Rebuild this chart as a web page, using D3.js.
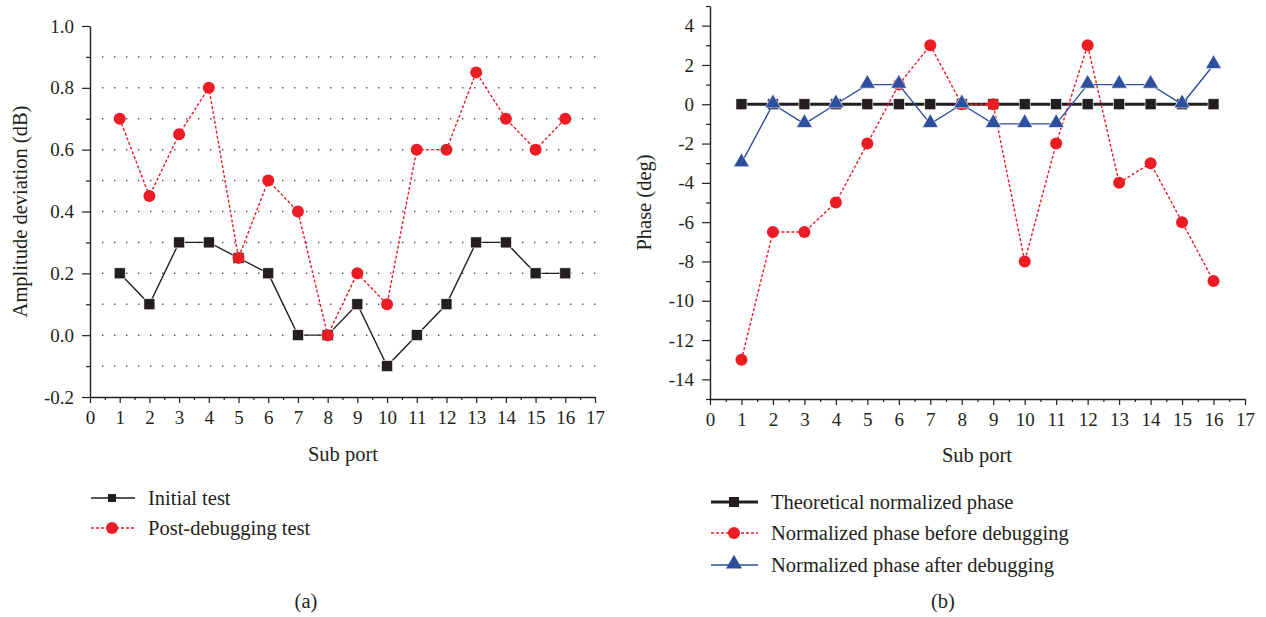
<!DOCTYPE html>
<html>
<head>
<meta charset="utf-8">
<script src="https://cdn.jsdelivr.net/npm/d3@7"></script>
<style>
  html, body { margin: 0; padding: 0; background: #fff; }
  svg { display: block; }
  text { font-family: "Liberation Serif", "Times New Roman", serif; fill: #231f20; }
</style>
</head>
<body>
<svg id="chart" width="1266" height="617"></svg>
<script>
// Sub-port indices shared by both panels
const ports = [1, 2, 3, 4, 5, 6, 7, 8, 9, 10, 11, 12, 13, 14, 15, 16];
const xTicks = [0, 1, 2, 3, 4, 5, 6, 7, 8, 9, 10, 11, 12, 13, 14, 15, 16, 17];

// Panel (a): amplitude deviation, dB
const initialTest = [0.2, 0.1, 0.3, 0.3, 0.25, 0.2, 0, 0, 0.1, -0.1, 0, 0.1, 0.3, 0.3, 0.2, 0.2];
const postDebugTest = [0.7, 0.45, 0.65, 0.8, 0.25, 0.5, 0.4, 0, 0.2, 0.1, 0.6, 0.6, 0.85, 0.7, 0.6, 0.7];
const ampTicks = [-0.2, 0.0, 0.2, 0.4, 0.6, 0.8, 1.0];
const ampMinorTicks = [-0.1, 0.1, 0.3, 0.5, 0.7, 0.9];
const ampGrid = [-0.1, 0.0, 0.1, 0.2, 0.3, 0.4, 0.5, 0.6, 0.7, 0.8, 0.9];

// Panel (b): phase, degrees
const theoreticalPhase = [0, 0, 0, 0, 0, 0, 0, 0, 0, 0, 0, 0, 0, 0, 0, 0];
const phaseBefore = [-13, -6.5, -6.5, -5, -2, 1, 3, 0, 0, -8, -2, 3, -4, -3, -6, -9];
const phaseAfter = [-3, 0, -1, 0, 1, 1, -1, 0, -1, -1, -1, 1, 1, 1, 0, 2];
const phaseTicks = [-14, -12, -10, -8, -6, -4, -2, 0, 2, 4];
const phaseMinorTicks = [-15, -13, -11, -9, -7, -5, -3, -1, 1, 3, 5];

const INK = "#231f20";
const RED = "#ec1c24";
const BLUE = "#2e4f9e";
const TICK_FS = 19;
const LABEL_FS = 20.5;

const svg = d3.select("#chart");

function xAxes(g, x, yPos) {
  const minor = d3.range(0.5, 17, 1);
  g.append("g").attr("transform", `translate(0,${yPos})`)
    .call(d3.axisBottom(x).tickValues(minor).tickSize(3).tickSizeOuter(0).tickFormat(""))
    .call(a => a.select(".domain").remove())
    .call(a => a.selectAll("line").attr("stroke", INK).attr("stroke-width", 1.2));
  g.append("g").attr("transform", `translate(0,${yPos})`)
    .call(d3.axisBottom(x).tickValues(xTicks).tickSize(6).tickSizeOuter(0).tickPadding(8).tickFormat(d => String(d)))
    .call(a => a.select(".domain").attr("stroke", INK).attr("stroke-width", 1.4))
    .call(a => a.selectAll("line").attr("stroke", INK).attr("stroke-width", 1.2))
    .call(a => a.selectAll("text").attr("font-size", TICK_FS).attr("font-family", "Liberation Serif").attr("fill", INK));
}

function yAxes(g, y, xPos, major, minor, fmt) {
  g.append("g").attr("transform", `translate(${xPos},0)`)
    .call(d3.axisLeft(y).tickValues(minor).tickSize(4).tickSizeOuter(0).tickFormat(""))
    .call(a => a.select(".domain").remove())
    .call(a => a.selectAll("line").attr("stroke", INK).attr("stroke-width", 1.2));
  g.append("g").attr("transform", `translate(${xPos},0)`)
    .call(d3.axisLeft(y).tickValues(major).tickSize(8).tickSizeOuter(0).tickPadding(8).tickFormat(fmt))
    .call(a => a.select(".domain").attr("stroke", INK).attr("stroke-width", 1.4))
    .call(a => a.selectAll("line").attr("stroke", INK).attr("stroke-width", 1.2))
    .call(a => a.selectAll("text").attr("font-size", TICK_FS).attr("font-family", "Liberation Serif").attr("fill", INK));
}

function square(g, x, y, data, size, fill) {
  g.selectAll(null).data(data).join("rect")
    .attr("x", (d, i) => x(ports[i]) - size / 2)
    .attr("y", d => y(d) - size / 2)
    .attr("width", size).attr("height", size)
    .attr("fill", fill).attr("stroke", "#fff").attr("stroke-width", 0.6);
}

function circle(g, x, y, data, r, fill) {
  g.selectAll(null).data(data).join("circle")
    .attr("cx", (d, i) => x(ports[i]))
    .attr("cy", d => y(d))
    .attr("r", r).attr("fill", fill);
}

function triangle(g, x, y, data, size, fill) {
  const sym = d3.symbol().type(d3.symbolTriangle).size(size);
  g.selectAll(null).data(data).join("path")
    .attr("d", sym)
    .attr("transform", (d, i) => `translate(${x(ports[i])},${y(d) - 1})`)
    .attr("fill", fill).attr("stroke", "#fff").attr("stroke-width", 0.6);
}

function seriesLine(g, x, y, data, color, width, dash) {
  const line = d3.line().x((d, i) => x(ports[i])).y(d => y(d));
  g.append("path").datum(data)
    .attr("d", line)
    .attr("fill", "none")
    .attr("stroke", color)
    .attr("stroke-width", width)
    .attr("stroke-dasharray", dash || null);
}

// ---------- Panel (a) ----------
{
  const x = d3.scaleLinear().domain([0, 17]).range([90, 595]);
  const y = d3.scaleLinear().domain([-0.2, 1.0]).range([397, 26]);
  const g = svg.append("g");

  // dotted horizontal grid
  g.append("g").selectAll("line").data(ampGrid).join("line")
    .attr("x1", 102).attr("x2", 596)
    .attr("y1", d => y(d)).attr("y2", d => y(d))
    .attr("stroke", "#555").attr("stroke-width", 1.5)
    .attr("stroke-dasharray", "1.4,10.6");

  yAxes(g, y, 90, ampTicks, ampMinorTicks, d => d.toFixed(1));
  xAxes(g, x, 397);

  seriesLine(g, x, y, initialTest, INK, 1.4);
  square(g, x, y, initialTest, 11, INK);
  seriesLine(g, x, y, postDebugTest, RED, 1.4, "3,2");
  circle(g, x, y, postDebugTest, 6, RED);

  g.append("text")
    .attr("transform", `translate(27,${y(0.4)}) rotate(-90)`)
    .attr("text-anchor", "middle")
    .attr("font-size", LABEL_FS)
    .text("Amplitude deviation (dB)");
  g.append("text")
    .attr("x", 343).attr("y", 461)
    .attr("text-anchor", "middle")
    .attr("font-size", LABEL_FS)
    .text("Sub port");

  // legend
  const leg = g.append("g");
  leg.append("line").attr("x1", 91).attr("x2", 135).attr("y1", 498).attr("y2", 498)
    .attr("stroke", INK).attr("stroke-width", 1.4);
  leg.append("rect").attr("x", 108).attr("y", 494).attr("width", 8).attr("height", 8).attr("fill", INK);
  leg.append("text").attr("x", 148).attr("y", 505).attr("font-size", LABEL_FS).text("Initial test");
  leg.append("line").attr("x1", 91).attr("x2", 135).attr("y1", 528).attr("y2", 528)
    .attr("stroke", RED).attr("stroke-width", 1.4).attr("stroke-dasharray", "3,2");
  leg.append("circle").attr("cx", 112).attr("cy", 528).attr("r", 6).attr("fill", RED);
  leg.append("text").attr("x", 148).attr("y", 535).attr("font-size", LABEL_FS).text("Post-debugging test");

  g.append("text").attr("x", 306).attr("y", 608).attr("text-anchor", "middle")
    .attr("font-size", LABEL_FS).text("(a)");
}

// ---------- Panel (b) ----------
{
  const x = d3.scaleLinear().domain([0, 17]).range([710, 1245]);
  const y = d3.scaleLinear().domain([-15, 5]).range([399, 6]);
  const g = svg.append("g");

  yAxes(g, y, 710, phaseTicks, phaseMinorTicks, d => String(d));
  xAxes(g, x, 399);

  seriesLine(g, x, y, theoreticalPhase, INK, 3);
  square(g, x, y, theoreticalPhase, 11, INK);
  seriesLine(g, x, y, phaseBefore, RED, 1.4, "3,2");
  circle(g, x, y, phaseBefore, 6, RED);
  seriesLine(g, x, y, phaseAfter, BLUE, 1.4);
  triangle(g, x, y, phaseAfter, 110, BLUE);

  g.append("text")
    .attr("transform", `translate(651,${y(-5)}) rotate(-90)`)
    .attr("text-anchor", "middle")
    .attr("font-size", LABEL_FS)
    .text("Phase (deg)");
  g.append("text")
    .attr("x", 977).attr("y", 462)
    .attr("text-anchor", "middle")
    .attr("font-size", LABEL_FS)
    .text("Sub port");

  const leg = g.append("g");
  leg.append("line").attr("x1", 711).attr("x2", 758).attr("y1", 502).attr("y2", 502)
    .attr("stroke", INK).attr("stroke-width", 3);
  leg.append("rect").attr("x", 729).attr("y", 497).attr("width", 10).attr("height", 10).attr("fill", INK);
  leg.append("text").attr("x", 771).attr("y", 509).attr("font-size", LABEL_FS).text("Theoretical normalized phase");

  leg.append("line").attr("x1", 711).attr("x2", 758).attr("y1", 533).attr("y2", 533)
    .attr("stroke", RED).attr("stroke-width", 1.4).attr("stroke-dasharray", "3,2");
  leg.append("circle").attr("cx", 734).attr("cy", 533).attr("r", 6).attr("fill", RED);
  leg.append("text").attr("x", 771).attr("y", 540).attr("font-size", LABEL_FS).text("Normalized phase before debugging");

  leg.append("line").attr("x1", 711).attr("x2", 758).attr("y1", 565).attr("y2", 565)
    .attr("stroke", BLUE).attr("stroke-width", 1.4);
  leg.append("path").attr("d", d3.symbol().type(d3.symbolTriangle).size(110))
    .attr("transform", "translate(734,564)").attr("fill", BLUE);
  leg.append("text").attr("x", 771).attr("y", 572).attr("font-size", LABEL_FS).text("Normalized phase after debugging");

  g.append("text").attr("x", 943).attr("y", 608).attr("text-anchor", "middle")
    .attr("font-size", LABEL_FS).text("(b)");
}
</script>
</body>
</html>
